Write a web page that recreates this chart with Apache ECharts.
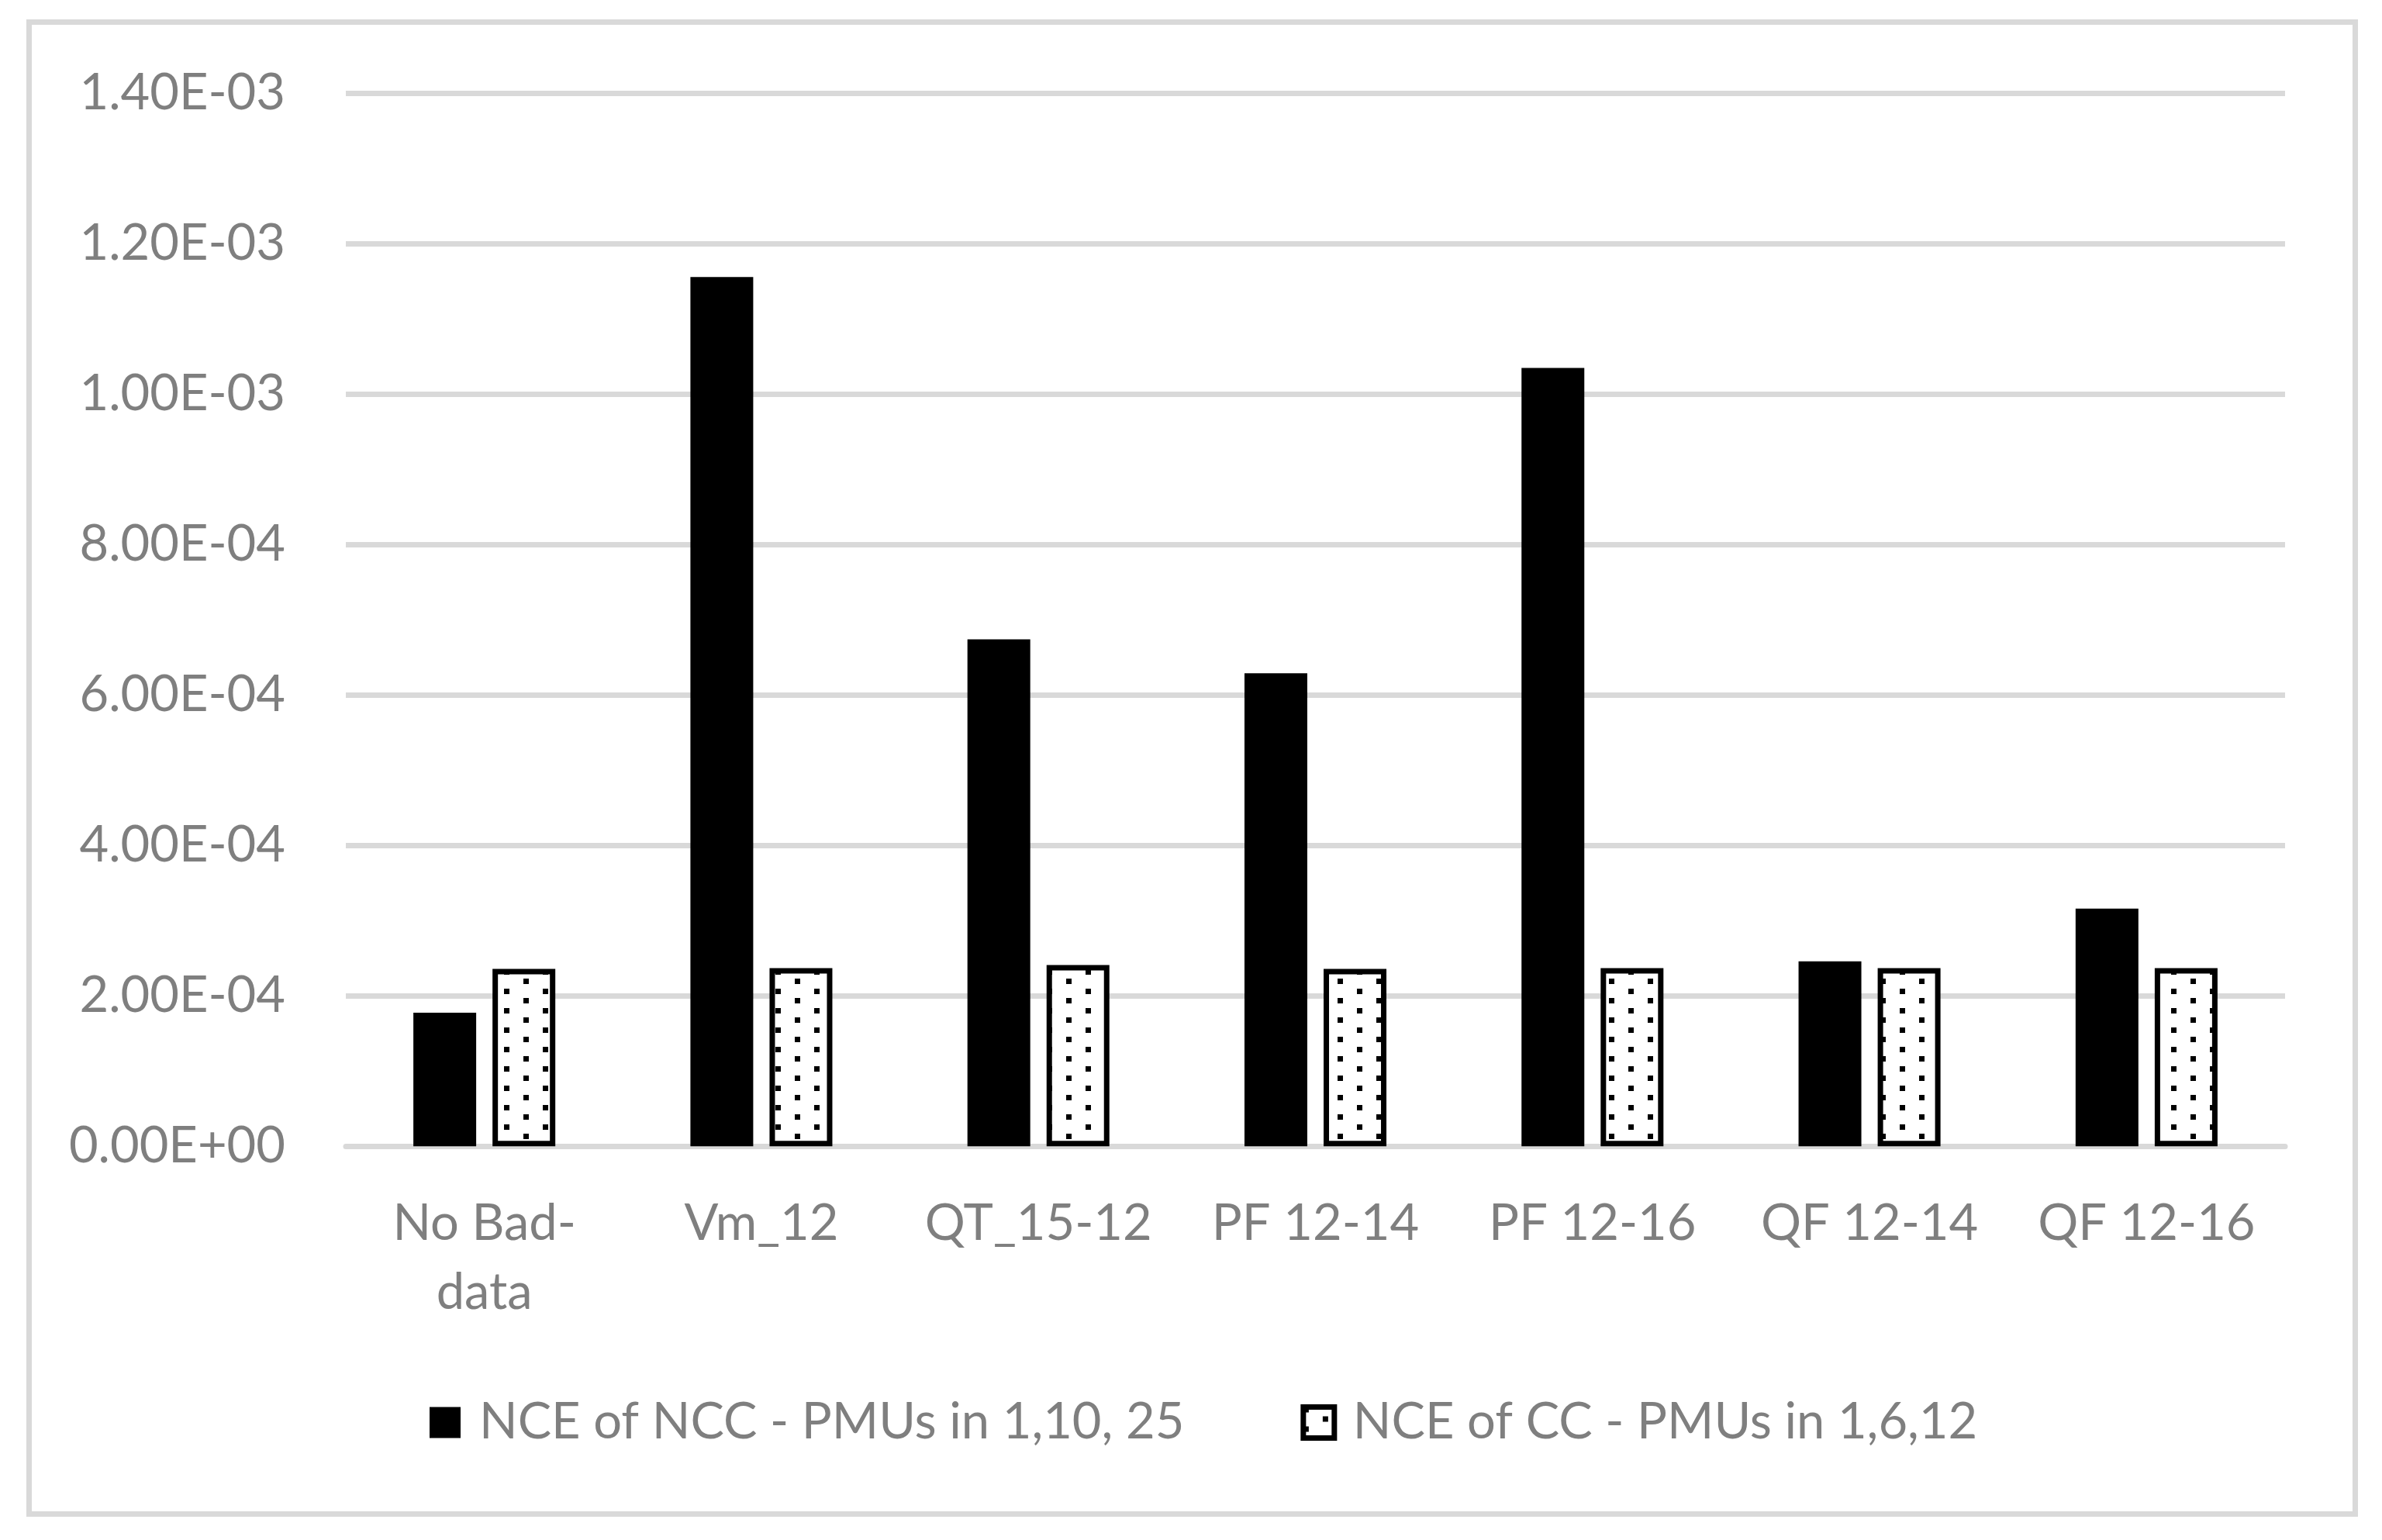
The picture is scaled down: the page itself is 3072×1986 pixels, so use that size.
<!DOCTYPE html>
<html>
<head>
<meta charset="utf-8">
<script src="https://cdn.jsdelivr.net/npm/echarts@6/dist/echarts.min.js"></script>
<style>
html,body{margin:0;padding:0;background:#fff;}
#chart{width:3072px;height:1986px;}
</style>
</head>
<body>
<div id="chart"></div>
<script>
const categories = ['No Bad-\ndata', 'Vm_12', 'QT_15-12', 'PF 12-14', 'PF 12-16', 'QF 12-14', 'QF 12-16'];
const nccValues = [1.777e-4, 1.156e-3, 6.74e-4, 6.29e-4, 1.035e-3, 2.46e-4, 3.16e-4];
const ccValues = [2.36e-4, 2.37e-4, 2.41e-4, 2.36e-4, 2.37e-4, 2.37e-4, 2.37e-4];
const seriesNames = ['NCE of NCC - PMUs in 1,10, 25', 'NCE of CC - PMUs in 1,6,12'];
const yTickLabels = ['0.00E+00', '2.00E-04', '4.00E-04', '6.00E-04', '8.00E-04', '1.00E-03', '1.20E-03', '1.40E-03'];
const yStep = 2e-4;

// dotted pattern
const pat = document.createElement('canvas');
pat.width = 50; pat.height = 25;
const pc = pat.getContext('2d');
pc.fillStyle = '#ffffff';
pc.fillRect(0, 0, 50, 25);
pc.fillStyle = '#000000';
pc.fillRect(0, 0, 7, 7);
pc.fillRect(25, 12, 7, 7);
const dotted = { image: pat, repeat: 'repeat' };

const FONT = 'Lato, "Open Sans", sans-serif';
const GRAY = '#7f7f7f';
const GRID = '#d9d9d9';

const chart = echarts.init(document.getElementById('chart'));
chart.setOption({
  backgroundColor: '#ffffff',
  animation: false,
  textStyle: { fontFamily: FONT },
  graphic: [{
    type: 'rect',
    shape: { x: 37.5, y: 28.5, width: 3000, height: 1924 },
    style: { fill: 'none', stroke: GRID, lineWidth: 7 },
    silent: true, z: -1
  }],
  grid: { left: 446, right: 125, top: 120.5, bottom: 507.7, containLabel: false },
  legend: {
    left: 549, top: 1797,
    itemWidth: 40, itemHeight: 40, itemGap: 150,
    textStyle: { fontSize: 65, color: GRAY, fontFamily: FONT, padding: [0, 0, 0, 19] },
    data: [
      { name: seriesNames[0], icon: 'rect', itemStyle: { color: '#000000', borderWidth: 0 } },
      { name: seriesNames[1], icon: 'rect', itemStyle: { color: dotted, borderColor: '#000000', borderWidth: 7 } }
    ]
  },
  xAxis: {
    type: 'category',
    data: categories,
    axisLine: { lineStyle: { color: GRID, width: 7 } },
    axisTick: { show: false },
    axisLabel: { fontSize: 65, color: GRAY, fontFamily: FONT, lineHeight: 89, margin: 55, interval: 0 }
  },
  yAxis: {
    type: 'value',
    min: 0, max: 1.4e-3, interval: yStep,
    axisLine: { show: false },
    axisTick: { show: false },
    splitLine: { lineStyle: { color: GRID, width: 7 } },
    axisLabel: {
      fontSize: 65, color: GRAY, fontFamily: FONT, margin: 78,
      formatter: v => yTickLabels[Math.round(v / yStep)]
    }
  },
  series: [
    {
      name: seriesNames[0], type: 'bar', data: nccValues,
      barWidth: 81, barGap: '26%',
      itemStyle: { color: '#000000' }
    },
    {
      name: seriesNames[1], type: 'bar', data: ccValues,
      barWidth: 81, barGap: '26%',
      itemStyle: { color: dotted, borderColor: '#000000', borderWidth: 7 }
    }
  ]
});
</script>
</body>
</html>
